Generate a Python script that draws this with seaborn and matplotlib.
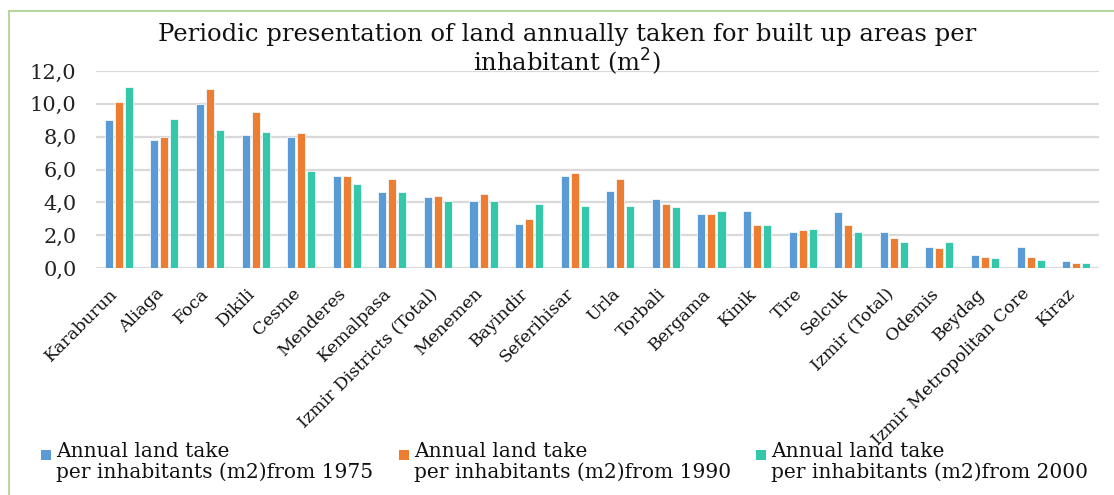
import matplotlib
matplotlib.use("Agg")
import matplotlib.pyplot as plt
import matplotlib.patches as mpatches
from matplotlib.legend_handler import HandlerPatch
from matplotlib.ticker import FuncFormatter
import pandas as pd
import seaborn as sns

districts = [
    "Karaburun", "Aliaga", "Foca", "Dikili", "Cesme", "Menderes", "Kemalpasa",
    "Izmir Districts (Total)", "Menemen", "Bayindir", "Seferihisar", "Urla",
    "Torbali", "Bergama", "Kinik", "Tire", "Selcuk", "Izmir (Total)", "Odemis",
    "Beydag", "Izmir Metropolitan Core", "Kiraz",
]
from_1975 = [9.0, 7.8, 10.0, 8.1, 8.0, 5.6, 4.6, 4.3, 4.1, 2.7, 5.6, 4.7,
             4.2, 3.3, 3.5, 2.2, 3.4, 2.2, 1.3, 0.8, 1.3, 0.4]
from_1990 = [10.1, 8.0, 10.9, 9.5, 8.2, 5.6, 5.4, 4.4, 4.5, 3.0, 5.8, 5.4,
             3.9, 3.3, 2.6, 2.3, 2.6, 1.8, 1.2, 0.7, 0.7, 0.3]
from_2000 = [11.0, 9.1, 8.4, 8.3, 5.9, 5.1, 4.6, 4.1, 4.1, 3.9, 3.8, 3.8,
             3.7, 3.5, 2.6, 2.4, 2.2, 1.6, 1.6, 0.6, 0.5, 0.3]
series_labels = [
    "Annual land take\nper inhabitants (m2)from 1975",
    "Annual land take\nper inhabitants (m2)from 1990",
    "Annual land take\nper inhabitants (m2)from 2000",
]
colors = ["#5B9BD5", "#ED7D31", "#34C7A9"]

frames = []
for label, vals in zip(series_labels, [from_1975, from_1990, from_2000]):
    frames.append(pd.DataFrame({"district": districts, "value": vals, "series": label}))
df = pd.concat(frames, ignore_index=True)

sns.set_theme(style="white")
plt.rcParams["font.family"] = ["DejaVu Serif"]

fig = plt.figure(figsize=(11.14, 4.95), dpi=100)
ax = fig.add_axes([96 / 1114, 1 - 268 / 495, (1099 - 96) / 1114, (268 - 71) / 495])

sns.barplot(data=df, x="district", y="value", hue="series", palette=colors,
            order=districts, hue_order=series_labels, width=0.66, gap=0.2,
            saturation=1, edgecolor="#F4F8FC", linewidth=0.6, ax=ax, legend=False)

ax.set_ylim(0, 12)
ax.set_xlim(-0.5, len(districts) - 0.5)
ax.set_yticks(range(0, 13, 2))
ax.yaxis.set_major_formatter(FuncFormatter(lambda v, _: f"{v:.1f}".replace(".", ",")))
ax.grid(axis="y", color="#D9D9D9", linewidth=1.6)
ax.set_axisbelow(True)
for side in ["top", "right", "left", "bottom"]:
    ax.spines[side].set_visible(False)
ax.tick_params(axis="y", length=0, pad=14, labelsize=15, colors="#222222")
ax.tick_params(axis="x", length=0, pad=19, labelsize=12.5, colors="#111111")
ax.set_xlabel("")
ax.set_ylabel("")
for lab in ax.get_xticklabels():
    lab.set_rotation(45)
    lab.set_ha("right")
    lab.set_va("baseline")
    lab.set_rotation_mode("anchor")

# Two-line title above the plot area
fig.text(567 / 1114, 1 - 34 / 495,
         "Periodic presentation of land annually taken for built up areas per",
         ha="center", va="center", fontsize=17.5, color="#111111")
fig.text(567 / 1114, 1 - 62 / 495, "inhabitant (m$^2$)",
         ha="center", va="center", fontsize=17.5, color="#111111")


def top_square(legend, orig_handle, xdescent, ydescent, width, height, fontsize):
    # small square aligned with the first line of a two-line label
    s = fontsize * 0.5
    return mpatches.Rectangle((-xdescent, -ydescent + height + fontsize * 0.36 - s),
                              s, s)


handles = [mpatches.Patch(facecolor=c, edgecolor="none") for c in colors]
leg = fig.legend(handles, series_labels, loc="upper left", ncol=3,
                 bbox_to_anchor=(23 / 1114, 1 - 424 / 495), frameon=False,
                 fontsize=14.5, handlelength=0.5, handleheight=0.5,
                 handletextpad=0.25, columnspacing=1.25,
                 handler_map={mpatches.Patch: HandlerPatch(patch_func=top_square)})
for t in leg.get_texts():
    t.set_linespacing(1.1)
    t.set_color("#111111")

# Chart frame (top and left edges)
fig.add_artist(plt.Line2D([9 / 1114, 1], [1 - 11 / 495, 1 - 11 / 495],
                          transform=fig.transFigure, color="#A9D18E", linewidth=1.2))
fig.add_artist(plt.Line2D([9 / 1114, 9 / 1114], [0, 1 - 11 / 495],
                          transform=fig.transFigure, color="#A9D18E", linewidth=1.2))

fig.savefig("out.png", dpi=100, facecolor="white")
